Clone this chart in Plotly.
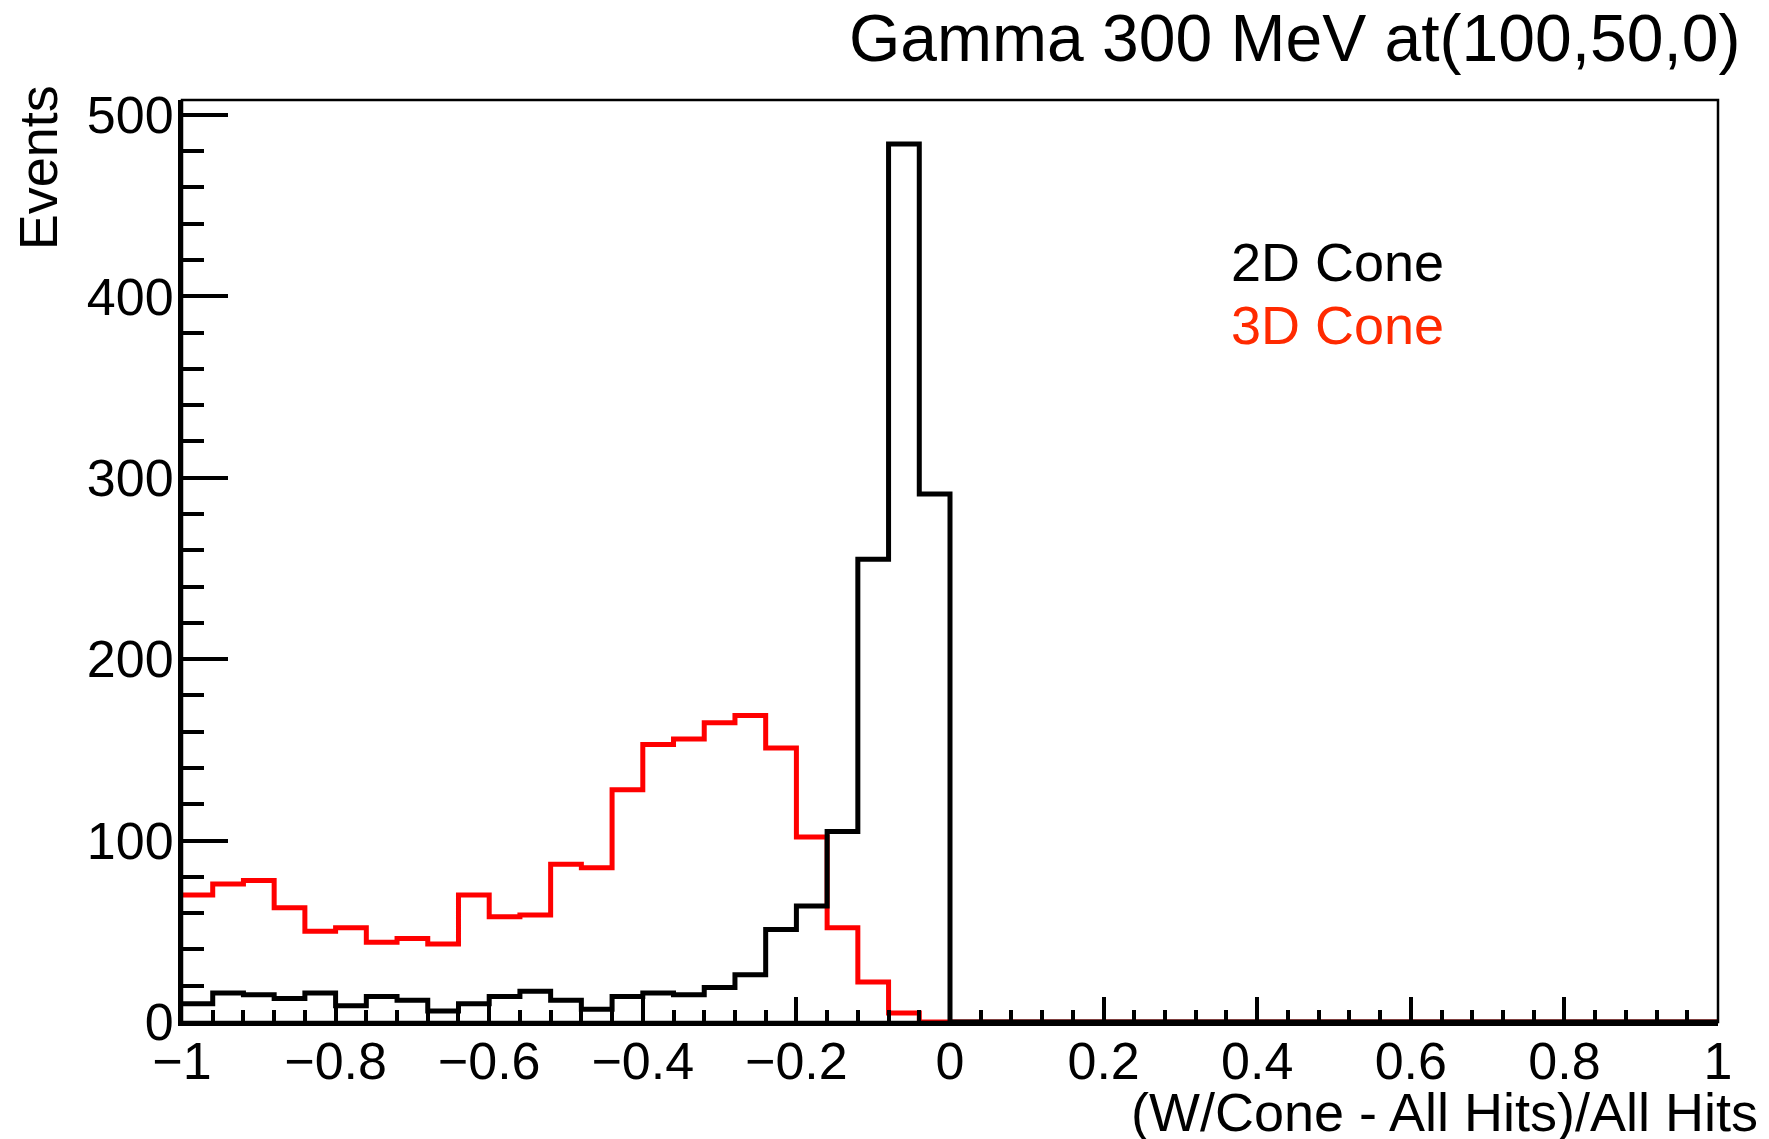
import numpy as np
import plotly.graph_objects as go

# Histogram definition: 50 bins from -1 to 1
x_min, x_max, n_bins = -1.0, 1.0, 50

cone2d_counts = [10, 16, 15, 13, 16, 9, 14, 12, 6, 10,
                 14, 17, 12, 7, 14, 16, 15, 19, 26, 51,
                 64, 105, 255, 484, 291] + [0] * 25
cone3d_counts = [70, 76, 78, 63, 50, 52, 44, 46, 43, 70,
                 58, 59, 87, 85, 128, 153, 156, 165, 169, 151,
                 102, 52, 22, 5, 0] + [0] * 25

title_text = "Gamma 300 MeV at(100,50,0)"
x_title = "(W/Cone - All Hits)/All Hits"
y_title = "Events"
legend_labels = ["2D Cone", "3D Cone"]

W, H = 1769, 1139
L, R, T, B = 181.7, 1718.0, 100.0, 1021.7
FONT = "Liberation Sans, Arial, Helvetica, sans-serif"
RED_TEXT = "#ff2a00"

edges = np.linspace(x_min, x_max, n_bins + 1)


def step_y(counts):
    return list(counts) + [counts[-1]]


def px(xp):
    return (xp - L) / (R - L)


def py(yp):
    return (B - yp) / (B - T)


fig = go.Figure()
fig.add_trace(go.Scatter(x=edges, y=step_y(cone3d_counts), mode="lines",
                         line=dict(color="#ff0000", width=5, shape="hv"),
                         showlegend=False, hoverinfo="skip"))
fig.add_trace(go.Scatter(x=edges, y=step_y(cone2d_counts), mode="lines",
                         line=dict(color="#000000", width=5, shape="hv"),
                         showlegend=False, hoverinfo="skip"))

ymax = 1.05 * max(cone2d_counts)

fig.update_layout(
    width=W, height=H,
    margin=dict(l=L, r=W - R, t=T, b=H - B, pad=0),
    paper_bgcolor="white", plot_bgcolor="white",
    font=dict(family=FONT, size=52, color="black"),
    xaxis=dict(range=[x_min, x_max], showgrid=False, zeroline=False,
               showline=True, linecolor="black", linewidth=4,
               ticks="inside", ticklen=25, tickwidth=3.5, tickcolor="black",
               dtick=0.2, tick0=-1, ticklabelstandoff=-9,
               minor=dict(ticks="inside", ticklen=12, tickwidth=3.5,
                          tickcolor="black", dtick=0.04, showgrid=False),
               tickfont=dict(family=FONT, size=52, color="black")),
    yaxis=dict(range=[0, ymax], showgrid=False, zeroline=False,
               showline=True, linecolor="black", linewidth=4,
               ticks="inside", ticklen=46, tickwidth=3.5, tickcolor="black",
               dtick=100, tick0=0, ticklabelstandoff=-6,
               minor=dict(ticks="inside", ticklen=22, tickwidth=3.5,
                          tickcolor="black", dtick=20, showgrid=False),
               tickfont=dict(family=FONT, size=52, color="black")),
    shapes=[dict(type="rect", xref="paper", yref="paper", x0=0, x1=1, y0=0, y1=1,
                 line=dict(color="black", width=2.5), layer="above")],
)

ann = [
    dict(text=title_text, x=px(1742), y=py(38), xanchor="right", yanchor="middle",
         font=dict(size=66, color="black")),
    dict(text=x_title, x=px(1760), y=py(1112), xanchor="right", yanchor="middle",
         font=dict(size=54, color="black")),
    dict(text=y_title, x=px(38), y=py(168), xanchor="center", yanchor="middle",
         textangle=-90, font=dict(size=54, color="black")),
    dict(text=legend_labels[0], x=px(1229), y=py(262), xanchor="left", yanchor="middle",
         font=dict(size=54, color="black")),
    dict(text=legend_labels[1], x=px(1229), y=py(325), xanchor="left", yanchor="middle",
         font=dict(size=54, color=RED_TEXT)),
]
for a in ann:
    a.update(xref="paper", yref="paper", showarrow=False)
    a["font"]["family"] = FONT
fig.update_layout(annotations=ann)

fig.write_html("out.html")
